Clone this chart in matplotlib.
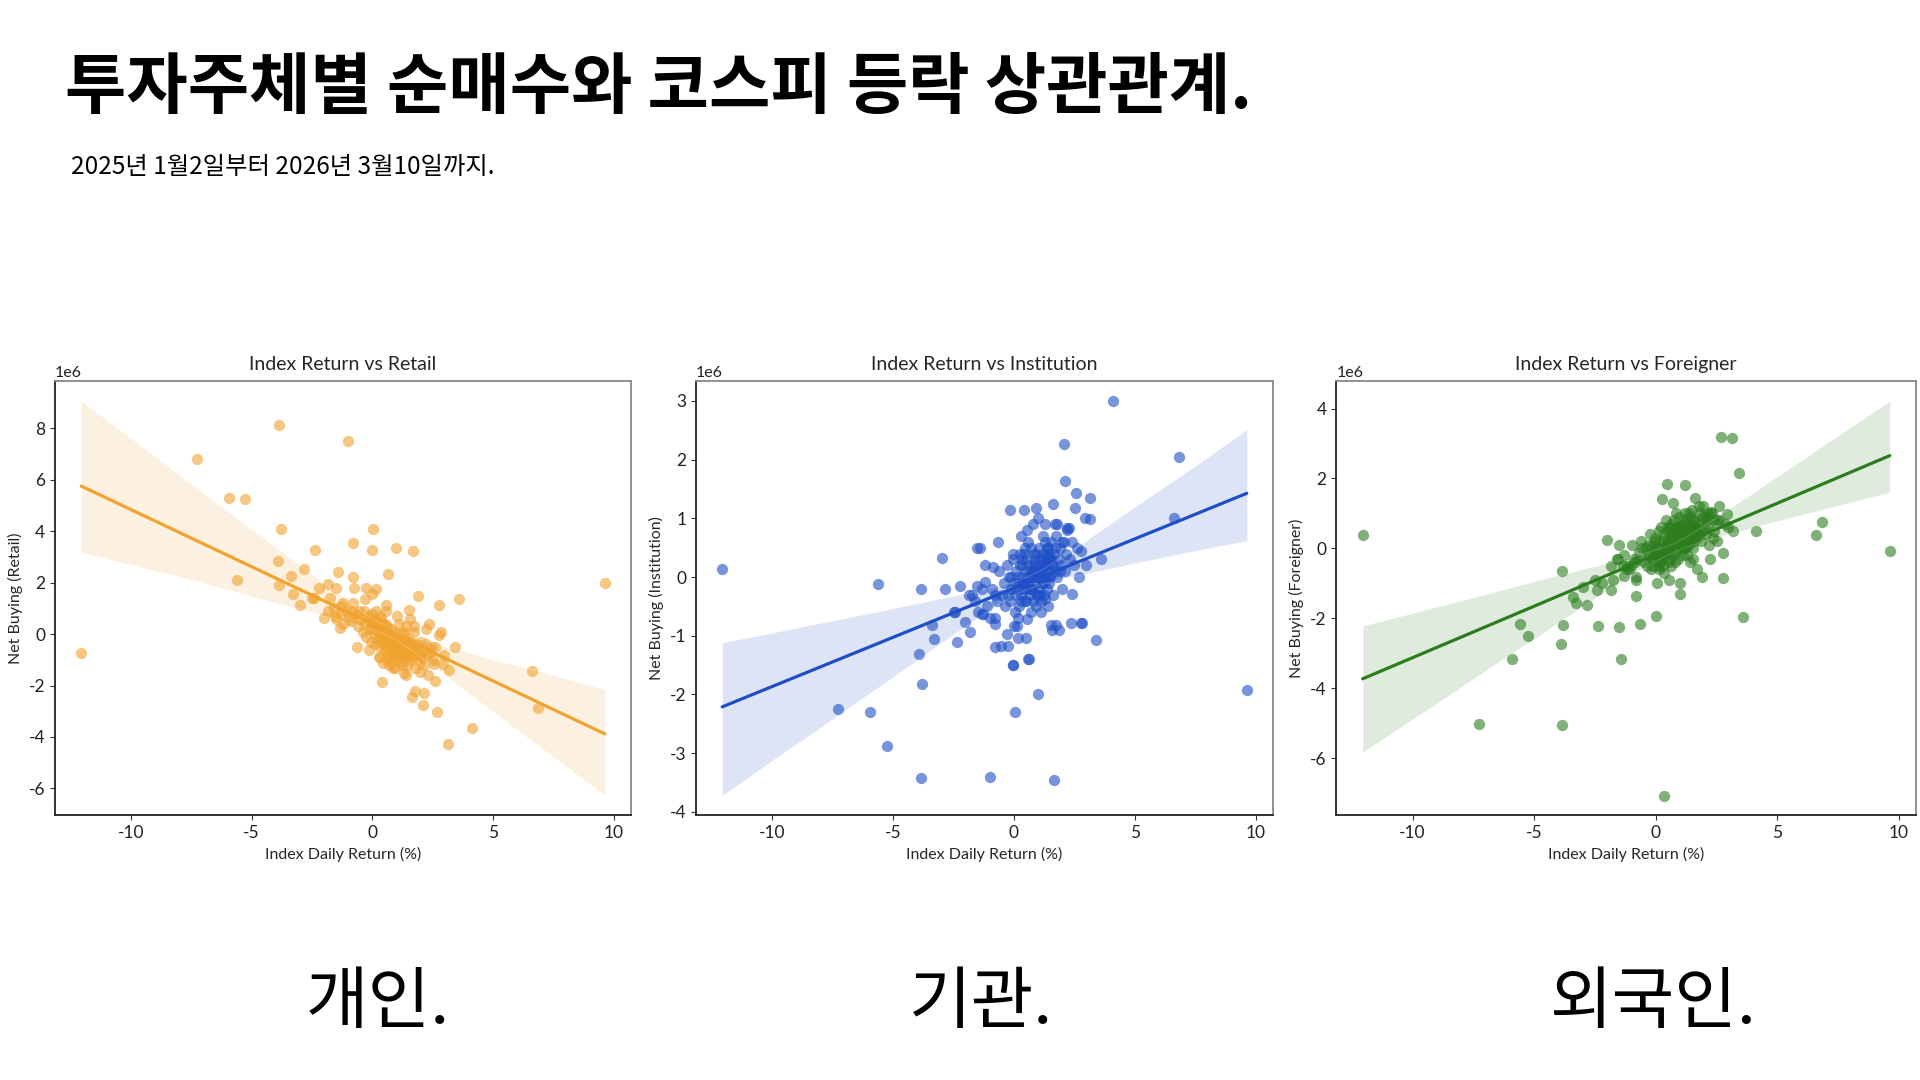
import numpy as np
import matplotlib.pyplot as plt
import seaborn as sns

# KOSPI daily return (%) and net buying by investor type (unit: 1e6), one entry per trading day
index_return = [
    -12.05, 9.62, -7.25, -3.85, -1.0, -5.93, -5.26, -5.6, -3.8, -3.9,
    -3.85, -3.3, -3.39, -2.36, -2.84, -2.98, -2.49, -2.21, -2.02, -1.83,
    -1.74, -1.51, -1.41, -1.33, -0.8, -0.8, -0.78, -0.66, -0.3, -0.26,
    -0.02, 0.0, 0.04, 0.15, 0.35, 0.56, 0.63, 0.99, 1.52, 1.66,
    1.88, 2.21, 2.76, 2.77, 3.6, 3.4, 4.1, 3.14, 2.68, 6.6,
    6.84, 2.08, 2.13, 2.58, 1.97, 1.62, 0.41, 2.29, 2.93, 3.16,
    2.53, 0.45, 1.21, 0.25, 0.93, 0.77, -0.16, 1.78, 1.37, 2.97,
    2.41, 1.28, 1.73, 2.35, 2.83, 1.57, -0.85, -0.03, -1.84, -1.54,
    -1.2, -2.43, -1.29, -0.99, 0.14, 0.52, -0.55, 0.59, -0.03,
    # dense cluster around zero
    -0.9, -0.7, -0.6, -0.5, -0.4, -0.35, -0.3, -0.25, -0.2, -0.15,
    -0.1, -0.05, 0.0, 0.05, 0.1, 0.12, 0.18, 0.2, 0.25, 0.3,
    0.32, 0.38, 0.4, 0.45, 0.5, 0.52, 0.55, 0.6, 0.62, 0.65,
    0.7, 0.72, 0.75, 0.78, 0.8, 0.82, 0.85, 0.88, 0.9, 0.92,
    0.95, 0.98, 1.0, 1.02, 1.05, 1.08, 1.1, 1.12, 1.15, 1.18,
    1.2, 1.22, 1.25, 1.28, 1.3, 1.32, 1.35, 1.38, 1.4, 1.42,
    1.45, 1.48, 1.5, 1.55, 1.58, 1.6, 1.65, 1.7, 1.75, 1.8,
    1.85, 1.9, 1.95, 2.0, 2.05, 2.1, 2.15, 2.2, 2.3, 2.4,
    2.5, 2.6, -1.1, -1.3, -1.5, -1.6, -1.2, -0.8, 0.15, 0.35,
    0.6, 0.85, 1.1, 1.4, 1.7, 0.3, 0.55, 1.0, 1.3, 0.7,
    0.42, 0.58, 0.68, 0.74, 0.86, 0.94, 1.04, 1.16, 1.24, 1.34,
    1.44, 1.52, 0.48, 0.66, 0.84, 1.06, 1.26, 1.46, 0.9, 1.14,
    0.36, 0.22, 0.08, -0.12, 1.62, 1.68, 1.92, 0.28, 0.96, 1.36,
]
retail = [
    -0.72, 2.0, 6.83, 8.13, 7.5, 5.3, 5.27, 2.11, 4.08, 2.86,
    1.92, 1.58, 2.27, 3.29, 2.55, 1.13, 1.4, 1.8, 0.62, 1.95,
    1.4, 1.8, 2.43, 0.22, 3.53, 2.21, 1.8, -0.51, 1.37, 1.8,
    1.55, 3.29, 4.08, 1.77, -0.3, 1.13, 2.35, 3.37, 0.93, 3.25,
    1.48, 0.19, -0.02, 1.13, 1.37, -0.5, -3.66, -4.29, -3.04, -1.43,
    -2.86, -2.77, -2.28, -1.83, -1.47, -2.46, -1.88, -1.6, -1.17, -1.4,
    -1.17, -1.11, -1.2, -0.9, -1.3, -1.0, -0.6, -2.21, -1.6, -0.8,
    -0.5, 0.0, 0.3, 0.4, 0.1, 0.6, 0.9, 0.2, 0.9, 0.7,
    1.2, 1.4, 0.8, 0.6, 0.5, 0.4, 0.9, 0.2, 0.8,
    0.5, 0.8, 0.3, 0.6, 0.1, 0.9, 0.4, -0.1, 0.7, 0.2,
    0.5, -0.3, 0.3, 0.6, 0.0, -0.4, 0.4, -0.2, 0.1, 0.7,
    -0.5, 0.2, -0.1, 0.4, -0.6, 0.0, -0.3, 0.3, -0.8, -0.1,
    0.1, -0.4, -0.7, 0.2, -0.2, -0.5, 0.0, -0.9, -0.3, 0.1,
    -0.6, -0.2, -0.4, -1.0, 0.0, -0.7, -0.3, -0.1, -0.8, -0.5,
    -0.2, -1.1, -0.4, -0.6, 0.1, -0.9, -0.3, -0.7, -0.5, -1.2,
    -0.2, -0.8, -0.4, -0.6, -1.0, -0.3, -0.7, -0.5, -1.3, -0.4,
    -0.8, -0.6, -1.1, -0.3, -0.9, -0.6, -1.2, -0.4, -0.8, -0.7,
    -1.0, -0.5, 0.9, 1.1, 0.6, 1.0, 0.4, 1.2, 0.9, 0.6,
    -1.0, -1.3, 0.4, 0.3, 0.1, -0.9, 0.9, 0.7, -1.5, -1.2,
    -0.2, -0.5, -0.3, -0.6, -0.4, -0.7, -0.5, -0.3, -0.8, -0.6,
    -0.4, -0.9, 0.0, -0.2, -0.6, -0.4, -0.7, -0.5, -0.1, -0.3,
    0.1, 0.3, 0.5, 0.6, -0.9, -0.6, -0.8, 0.2, -0.8, -0.2,
]
institution = [
    0.13, -1.92, -2.24, -3.42, -3.4, -2.3, -2.88, -0.12, -1.83, -1.31,
    -0.21, -1.06, -0.82, -1.11, -0.2, 0.32, -0.6, -0.15, -0.77, -0.93,
    -0.31, 0.49, 0.49, -0.63, -0.8, -0.69, -1.2, 0.59, -0.97, -1.17,
    -1.5, -0.83, -2.3, -1.03, 0.2, -0.71, -1.4, -1.99, -0.81, -3.46,
    -0.9, 0.83, 0.45, -0.79, 0.31, -1.08, 3.0, 1.34, 0.0, 1.0,
    2.05, 2.26, 1.63, 1.43, 0.6, 1.24, 1.14, 0.83, 1.0, 0.99,
    1.17, 0.5, 0.7, 0.4, 1.17, 0.9, 1.14, 0.9, 0.5, 0.2,
    -0.29, -0.38, -0.81, -0.78, -0.79, -0.9, 0.17, 0.39, -0.31, -0.15,
    -0.08, -0.6, -0.63, -0.69, -0.83, -1.03, -1.17, -1.4, -1.5,
    -0.2, -0.4, 0.1, -0.3, -0.1, -0.5, 0.2, -0.3, 0.0, -0.4,
    -0.2, 0.3, -0.1, -0.6, 0.1, -0.2, 0.0, -0.5, 0.2, -0.3,
    0.0, -0.1, 0.4, -0.4, 0.1, -0.2, 0.3, -0.1, 0.2, -0.3,
    0.0, 0.5, -0.2, 0.1, -0.4, 0.2, 0.0, 0.3, -0.1, 0.4,
    -0.3, 0.1, 0.0, 0.5, -0.2, 0.2, -0.4, 0.3, 0.0, -0.1,
    0.4, 0.1, -0.3, 0.6, 0.0, 0.2, -0.2, 0.4, 0.1, 0.5,
    -0.1, 0.3, 0.0, 0.6, 0.2, -0.3, 0.4, 0.1, 0.7, 0.0,
    0.3, 0.5, 0.2, -0.2, 0.6, 0.1, 0.4, 0.8, 0.3, 0.6,
    0.2, 0.5, -0.5, -0.2, -0.6, -0.4, 0.2, -0.3, -0.7, 0.3,
    0.6, 0.4, -0.6, -0.5, 0.9, 0.7, 0.8, 1.0, 0.9, -0.6,
    -0.1, 0.0, 0.1, -0.2, 0.2, -0.3, 0.0, 0.1, -0.1, 0.2,
    0.0, 0.3, -0.4, -0.2, 0.1, -0.3, 0.2, 0.4, -0.5, 0.3,
    -0.2, -0.1, -0.3, 0.0, 0.2, 0.5, 0.1, -0.4, 0.0, 0.3,
]
foreigner = [
    0.37, -0.07, -5.02, -5.05, -0.5, -3.16, -2.49, -2.15, -2.19, -2.73,
    -0.64, -1.55, -1.4, -2.22, -1.62, -1.11, -0.9, -0.98, 0.24, -1.2,
    -0.9, -2.26, -3.16, -0.5, -1.35, -0.81, -0.3, -2.15, 0.1, -0.2,
    0.0, -1.92, -1.0, -0.6, -7.07, -0.4, -0.5, -1.31, -0.3, 0.6,
    -0.81, -0.3, -0.84, -0.13, -1.95, 2.15, 0.5, 3.16, 3.2, 0.37,
    0.77, 0.8, 1.0, 0.8, 0.9, 1.45, 0.8, 1.04, 0.98, 0.5,
    0.2, 1.85, 1.82, 1.41, 0.6, 0.5, -0.3, 1.2, 1.0, 0.6,
    0.8, 0.5, 0.4, 0.3, 0.7, 0.2, -0.4, -0.2, -0.5, -0.3,
    -0.6, -1.2, -0.2, 0.1, 0.2, 0.5, 0.0, 0.6, 0.3,
    -0.3, -0.1, 0.2, -0.4, 0.0, -0.5, -0.2, 0.4, -0.6, 0.1,
    -0.3, 0.2, -0.1, 0.0, -0.2, 0.5, -0.4, 0.6, -0.3, -0.5,
    0.4, 0.0, -0.2, 0.1, 0.6, 0.2, -0.1, -0.3, 0.7, 0.3,
    0.0, -0.2, 0.8, -0.4, 0.5, 0.2, -0.1, 0.6, 0.4, -0.3,
    0.9, 0.0, 0.3, 0.5, 0.1, 0.4, 0.7, -0.2, 0.8, 0.5,
    0.0, 1.0, 0.6, 0.1, -0.2, 0.7, 0.4, 0.3, 0.9, 0.6,
    0.2, 0.5, 1.1, 0.0, 0.8, 0.4, 0.6, 0.3, 0.7, 1.0,
    0.2, 0.5, 1.2, 0.6, 0.4, 0.9, 0.7, 0.1, 1.0, 0.5,
    0.8, 1.2, -0.6, -0.8, 0.1, -0.3, -0.5, -0.9, -0.5, -0.7,
    0.3, 1.0, 0.0, -0.4, -0.6, 0.2, -0.9, -1.0, 0.2, 1.3,
    0.1, 0.4, 0.2, 0.5, 0.3, 0.6, 0.4, 0.2, 0.7, 0.3,
    0.5, 0.8, 0.0, 0.2, 0.4, 0.1, 0.5, 0.3, 0.2, 0.0,
    -0.1, -0.3, -0.4, -0.5, 0.6, 0.4, 0.9, -0.2, 0.6, 0.1,
]

panel_keys = ['Retail', 'Institution', 'Foreigner']
panel_labels = ['개인.', '기관.', '외국인.']
panel_colors = ['#F0A32F', '#1F4FC6', '#2C7D1E']

title = '투자주체별 순매수와 코스피 등락 상관관계.'
subtitle = '2025년 1월2일부터 2026년 3월10일까지.'

sns.set_style('white')
plt.rcParams['font.family'] = ['Lato', 'DejaVu Sans']
plt.rcParams['axes.unicode_minus'] = False

x = np.array(index_return)
series = [np.array(retail) * 1e6, np.array(institution) * 1e6, np.array(foreigner) * 1e6]
kr_font = ['Noto Sans CJK KR', 'DejaVu Sans']

fig = plt.figure(figsize=(19.2, 10.8), dpi=100)

boxes = [[0.0287, 0.245, 0.300, 0.402],
         [0.3625, 0.245, 0.3005, 0.402],
         [0.696, 0.245, 0.302, 0.402]]
label_x = [0.197, 0.511, 0.861]

for box, key, lab, col, y, lx in zip(boxes, panel_keys, panel_labels, panel_colors, series, label_x):
    ax = fig.add_axes(box)
    sns.regplot(x=x, y=y, ax=ax, color=col, seed=7, n_boot=1000,
                scatter_kws={'s': 66, 'alpha': 0.6, 'linewidths': 0},
                line_kws={'linewidth': 2.3})
    ax.set_title(f'Index Return vs {key}', fontsize=14, pad=8)
    ax.set_xlabel('Index Daily Return (%)', fontsize=11.5)
    ax.set_ylabel(f'Net Buying ({key})', fontsize=11.5)
    ax.tick_params(axis='both', labelsize=12.5, length=3.5, width=0.8,
                   colors='#333333', labelcolor='#222222', left=True, bottom=True)
    ax.set_xticks([-10, -5, 0, 5, 10])
    ax.yaxis.get_offset_text().set_fontsize(11.5)
    for side in ['top', 'right']:
        ax.spines[side].set_color('#888888')
        ax.spines[side].set_linewidth(1.3)
    for side in ['left', 'bottom']:
        ax.spines[side].set_color('#222222')
        ax.spines[side].set_linewidth(1.3)
    fig.text(lx, 0.07, lab, fontsize=49, ha='center', va='center',
             color='black', family=kr_font)

fig.text(0.034, 0.918, title, fontsize=48, fontweight='bold', ha='left', va='center',
         color='black', family=kr_font)
fig.text(0.037, 0.845, subtitle, fontsize=17.5, ha='left', va='center',
         color='black', family=kr_font)

fig.savefig('out.png', dpi=100)
